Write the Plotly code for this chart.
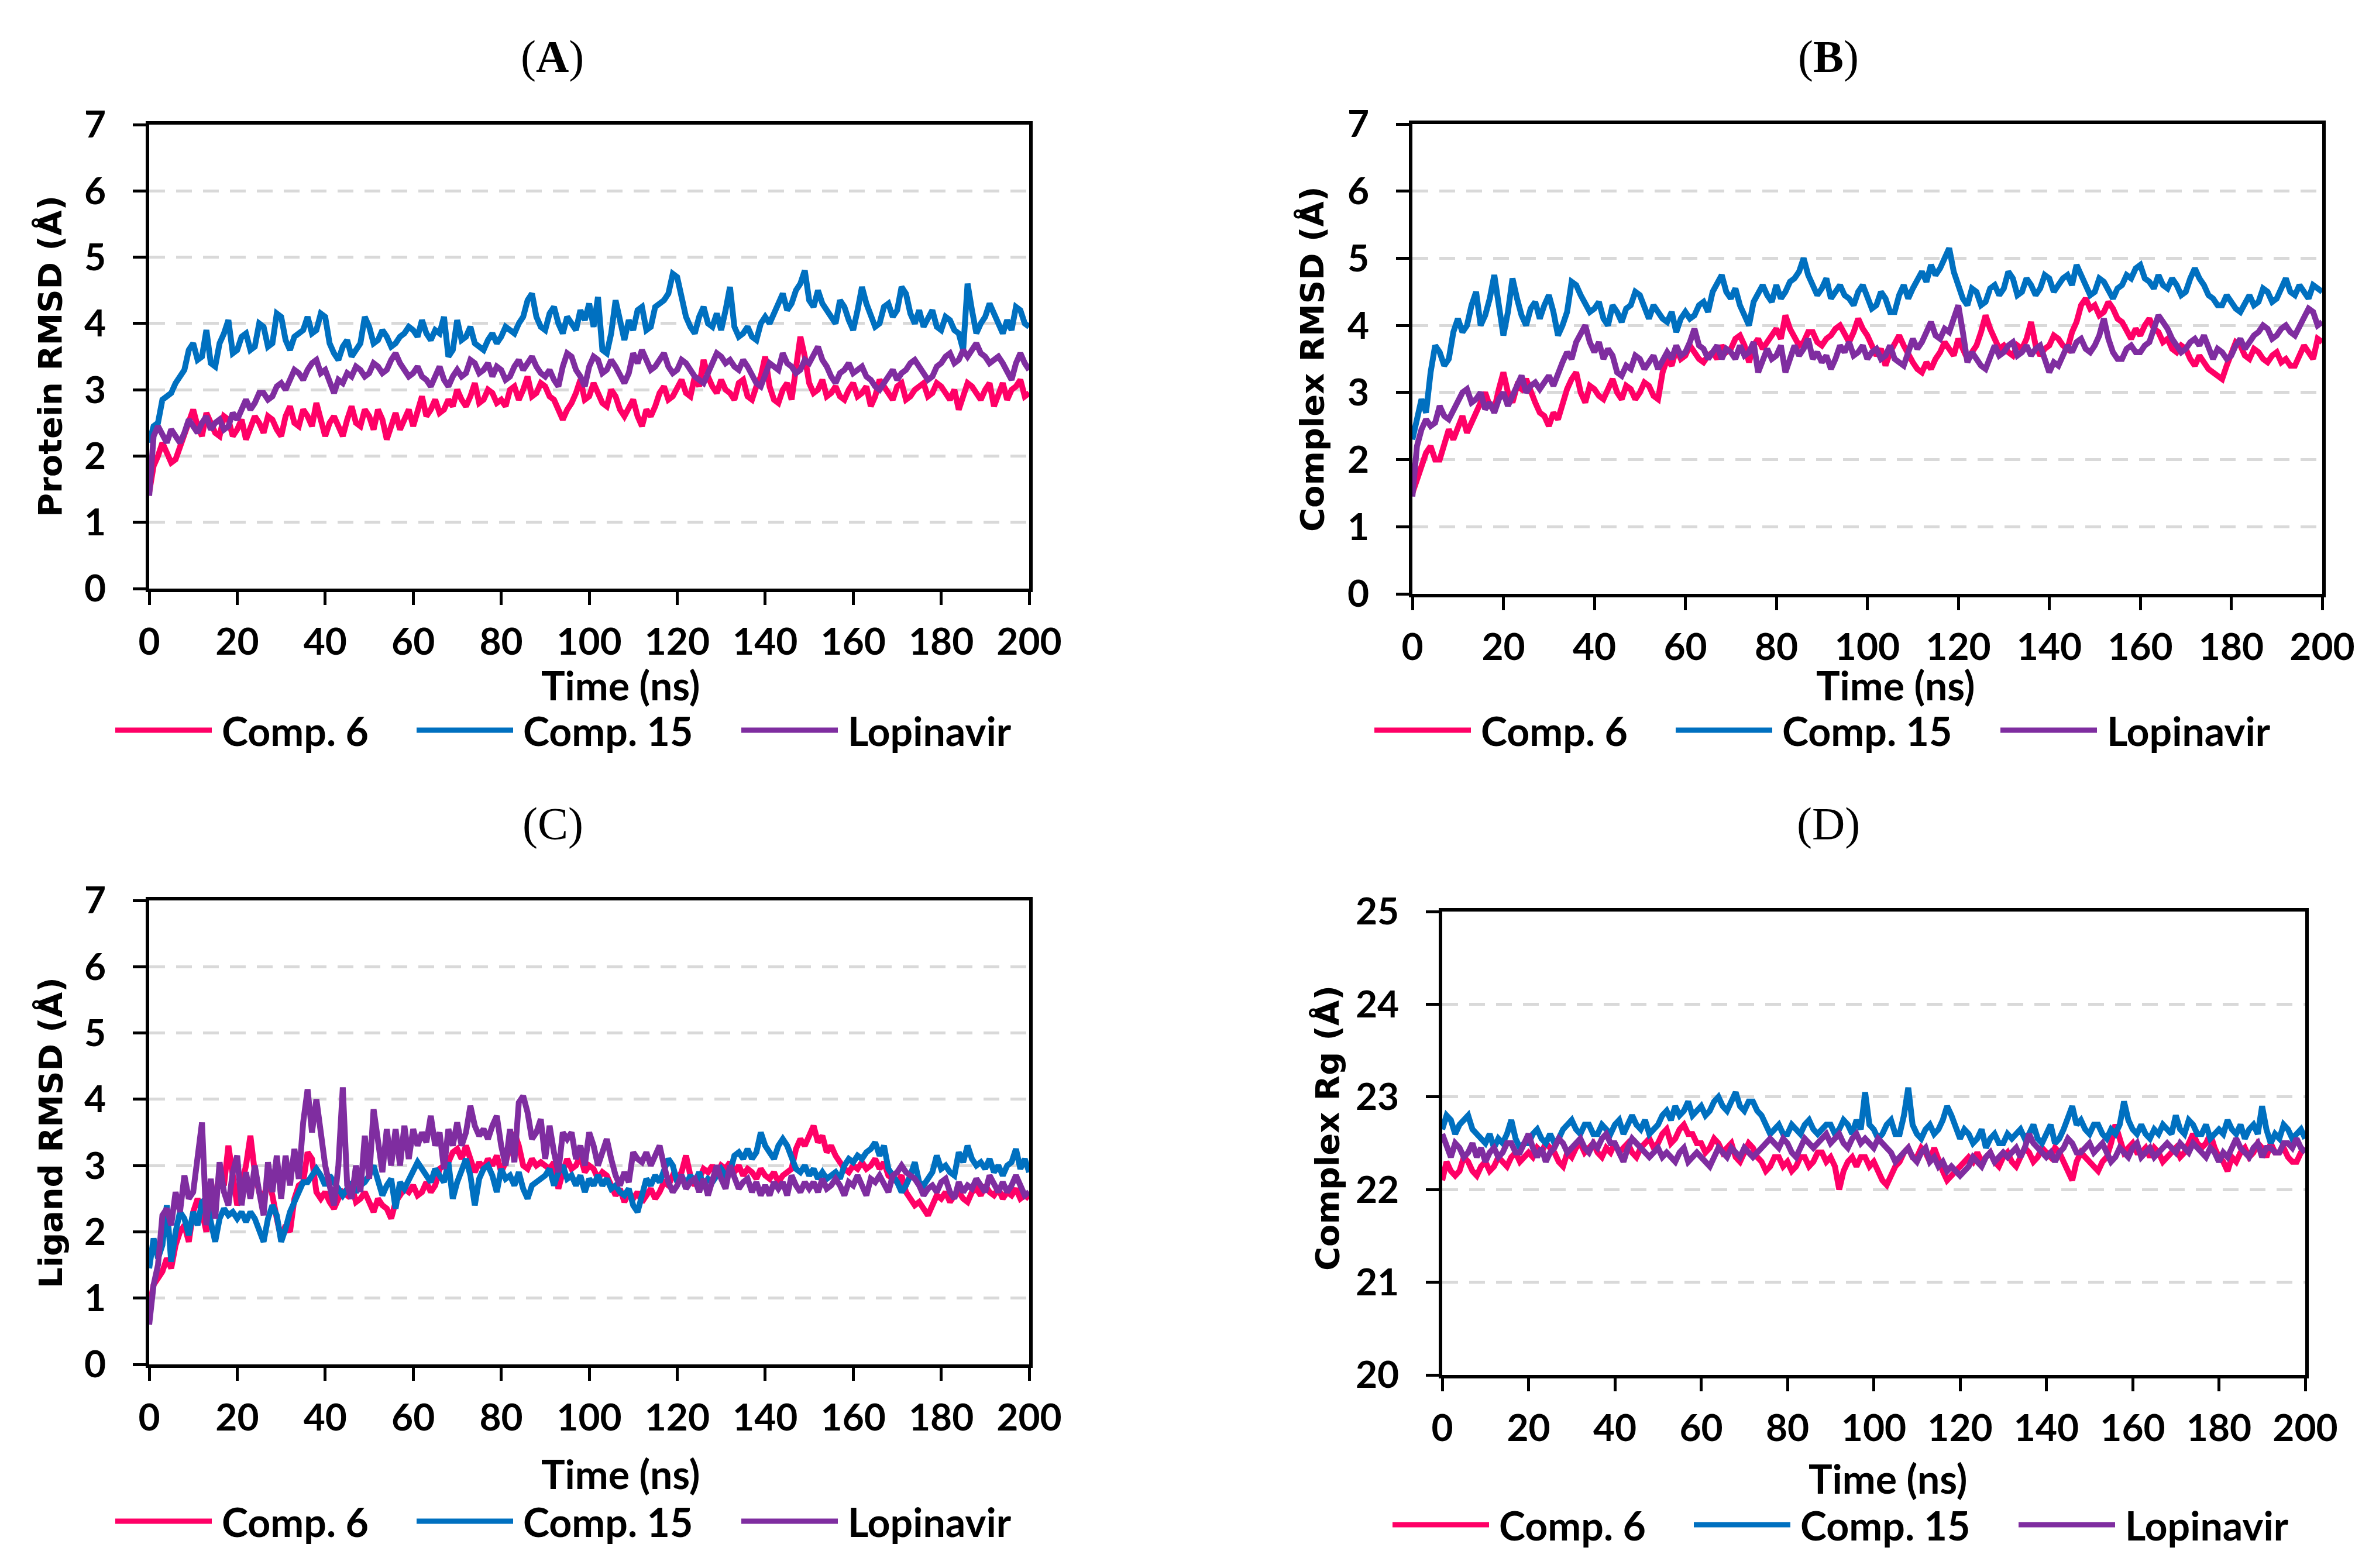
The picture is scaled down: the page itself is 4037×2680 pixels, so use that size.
import plotly.graph_objects as go

# ---------------- data ----------------
time_ns = list(range(0, 201))

series_names = ["Comp. 6", "Comp. 15", "Lopinavir"]

# (A) protein RMSD
protein_comp6 = [
    1.45, 1.85, 2.0, 2.2, 2.05, 1.9, 1.95, 2.15, 2.3, 2.55,
    2.7, 2.45, 2.3, 2.65, 2.5, 2.35, 2.3, 2.6, 2.55, 2.3,
    2.4, 2.55, 2.25, 2.4, 2.6, 2.5, 2.35, 2.6, 2.55, 2.4,
    2.3, 2.6, 2.75, 2.5, 2.45, 2.7, 2.6, 2.45, 2.8, 2.55,
    2.3, 2.5, 2.6, 2.45, 2.3, 2.55, 2.75, 2.5, 2.45, 2.7,
    2.6, 2.4, 2.7, 2.55, 2.25, 2.45, 2.65, 2.4, 2.55, 2.7,
    2.45, 2.65, 2.9, 2.6, 2.7, 2.85, 2.65, 2.7, 2.85, 2.75,
    3.0, 2.85, 2.75, 2.9, 3.1, 2.8, 2.85, 3.0, 2.95, 2.8,
    2.85, 2.75, 3.0, 3.05, 2.85, 3.0, 3.2, 2.9, 2.95, 3.1,
    3.05, 2.9, 2.85, 2.7, 2.55, 2.7, 2.8, 2.95, 3.15, 2.85,
    2.9, 3.1, 2.95, 2.8, 2.75, 3.0, 2.9, 2.7, 2.6, 2.75,
    2.85, 2.6, 2.45, 2.7, 2.6, 2.75, 2.95, 3.05, 2.85, 2.9,
    3.05, 3.15, 2.95, 2.9, 3.2, 3.05, 3.45, 3.2, 3.05, 2.95,
    3.15, 3.0, 2.95, 2.85, 3.1, 3.15, 2.9, 2.85, 3.05, 3.2,
    3.5, 3.05, 2.85, 2.8, 3.0, 3.1, 2.85, 3.3, 3.8, 3.5,
    3.1, 2.95, 3.0, 3.15, 2.9, 2.95, 3.05, 2.9, 2.85, 3.0,
    3.1, 2.9, 2.95, 3.05, 2.75, 2.9, 3.15, 3.05, 2.95, 2.85,
    3.05, 3.1, 2.85, 2.9, 3.0, 3.05, 3.1, 2.9, 2.95, 3.1,
    3.05, 2.95, 2.85, 3.0, 2.7, 2.9, 3.1, 3.05, 2.95, 2.85,
    3.0, 3.1, 2.75, 2.95, 3.1, 2.85, 3.0, 3.05, 3.15, 2.9,
    2.95]
protein_comp15 = [
    2.2, 2.45, 2.5, 2.85, 2.9, 2.95, 3.1, 3.2, 3.3, 3.6,
    3.7, 3.45, 3.5, 3.9, 3.4, 3.35, 3.7, 3.85, 4.05, 3.55,
    3.6, 3.8, 3.85, 3.6, 3.65, 4.0, 3.95, 3.65, 3.7, 4.15,
    4.1, 3.75, 3.6, 3.8, 3.85, 3.9, 4.1, 3.85, 3.9, 4.15,
    4.1, 3.7, 3.55, 3.45, 3.65, 3.75, 3.5, 3.6, 3.7, 4.1,
    3.95, 3.7, 3.75, 3.9, 3.8, 3.65, 3.7, 3.8, 3.85, 3.95,
    3.9, 3.8, 4.05, 3.85, 3.75, 3.9, 3.85, 4.1, 3.5, 3.6,
    4.05, 3.75, 3.8, 3.95, 3.7, 3.65, 3.6, 3.75, 3.85, 3.7,
    3.8, 3.95, 3.9, 3.85, 4.0, 4.1, 4.35, 4.45, 4.1, 3.95,
    3.9, 4.15, 4.25, 4.0, 3.85, 4.1, 4.0, 3.9, 4.2, 4.05,
    4.3, 3.95, 4.4, 3.6, 3.55, 3.85, 4.35, 4.0, 3.75, 4.05,
    3.9, 4.2, 4.25, 3.9, 3.95, 4.25, 4.3, 4.35, 4.45, 4.75,
    4.7, 4.4, 4.1, 3.95, 3.85, 4.1, 4.25, 4.0, 3.95, 4.15,
    3.9, 4.2, 4.55, 3.95, 3.8, 3.85, 3.95, 3.8, 3.75, 4.0,
    4.1, 4.0, 4.15, 4.3, 4.45, 4.2, 4.3, 4.5, 4.6, 4.8,
    4.35, 4.25, 4.5, 4.3, 4.2, 4.1, 4.0, 4.35, 4.25, 4.05,
    3.9, 4.2, 4.55, 4.3, 4.1, 3.95, 4.0, 4.25, 4.3, 4.1,
    4.2, 4.55, 4.45, 4.15, 4.0, 4.2, 3.95, 4.1, 4.2, 3.95,
    3.9, 4.1, 4.05, 3.9, 3.85, 3.6, 4.6, 4.2, 3.85, 4.0,
    4.1, 4.3, 4.15, 3.95, 3.85, 4.05, 3.9, 4.25, 4.2, 4.0,
    3.95]
protein_lopinavir = [
    1.4, 2.3, 2.45, 2.3, 2.2, 2.4, 2.3, 2.2, 2.35, 2.55,
    2.45, 2.35, 2.5, 2.6, 2.4, 2.5, 2.55, 2.4, 2.45, 2.65,
    2.55, 2.7, 2.85, 2.7, 2.8, 2.95, 2.95, 2.85, 2.9, 3.05,
    3.1, 3.0, 3.15, 3.3, 3.25, 3.15, 3.3, 3.4, 3.45, 3.25,
    3.3, 3.1, 2.95, 3.15, 3.1, 3.25, 3.2, 3.35, 3.3, 3.2,
    3.25, 3.4, 3.35, 3.25, 3.3, 3.45, 3.55, 3.4, 3.3, 3.2,
    3.25, 3.35, 3.2, 3.15, 3.05, 3.2, 3.35, 3.15, 3.05, 3.2,
    3.3, 3.2, 3.25, 3.45, 3.4, 3.25, 3.3, 3.4, 3.2, 3.35,
    3.3, 3.15, 3.2, 3.35, 3.45, 3.3, 3.4, 3.5, 3.35, 3.25,
    3.2, 3.3, 3.15, 3.05, 3.35, 3.55, 3.5, 3.3, 3.2, 3.05,
    3.35, 3.5, 3.45, 3.25, 3.3, 3.45, 3.35, 3.2, 3.1, 3.25,
    3.55, 3.4, 3.6, 3.45, 3.3, 3.35, 3.45, 3.55, 3.35, 3.25,
    3.3, 3.45, 3.4, 3.3, 3.2, 3.15, 3.1, 3.25, 3.4, 3.55,
    3.5, 3.4, 3.45, 3.35, 3.3, 3.45, 3.35, 3.2, 3.1, 3.05,
    3.25, 3.4, 3.35, 3.3, 3.55, 3.4, 3.35, 3.25, 3.3, 3.45,
    3.4, 3.55, 3.65, 3.45, 3.35, 3.2, 3.1, 3.25, 3.3, 3.4,
    3.25, 3.3, 3.35, 3.2, 3.15, 3.05, 3.0, 3.1, 3.2, 3.3,
    3.15, 3.25, 3.3, 3.4, 3.45, 3.35, 3.25, 3.15, 3.2, 3.35,
    3.4, 3.5, 3.55, 3.4, 3.45, 3.6, 3.5, 3.6, 3.7, 3.55,
    3.5, 3.4, 3.45, 3.5, 3.4, 3.25, 3.15, 3.4, 3.55, 3.4,
    3.3]

# (B) complex RMSD
complex_comp6 = [
    1.5, 1.7, 1.85, 2.1, 2.2, 2.0, 2.0, 2.25, 2.45, 2.3,
    2.5, 2.65, 2.4, 2.55, 2.7, 2.85, 3.0, 2.8, 2.75, 3.05,
    3.3, 3.0, 2.85, 3.1, 3.05, 3.2, 3.0, 2.85, 2.7, 2.65,
    2.5, 2.7, 2.6, 2.85, 3.05, 3.2, 3.3, 3.0, 2.85, 3.1,
    3.05, 2.95, 2.9, 3.05, 3.2, 3.0, 2.9, 3.1, 3.05, 2.9,
    3.0, 3.15, 3.1, 2.95, 2.9, 3.3, 3.5, 3.4, 3.65, 3.5,
    3.55, 3.7, 3.6, 3.5, 3.45, 3.55, 3.6, 3.5, 3.7, 3.6,
    3.65, 3.8, 3.85, 3.7, 3.45, 3.7, 3.8, 3.65, 3.75, 3.85,
    3.95, 3.8, 4.15, 3.95, 3.8, 3.7, 3.75, 3.9, 3.9, 3.75,
    3.7, 3.8, 3.85, 3.95, 4.0, 3.85, 3.75, 3.9, 4.1, 3.95,
    3.85, 3.7, 3.55, 3.65, 3.4, 3.6, 3.75, 3.85, 3.7, 3.55,
    3.45, 3.35, 3.3, 3.45, 3.35, 3.5, 3.6, 3.75, 3.65, 3.55,
    3.8, 3.65, 3.5, 3.6, 3.7, 3.9, 4.15, 3.95, 3.8, 3.65,
    3.7, 3.6, 3.55, 3.7, 3.65, 3.8, 4.05, 3.7, 3.55, 3.65,
    3.7, 3.85, 3.8, 3.7, 3.65, 3.9, 4.05, 4.3, 4.4, 4.25,
    4.3, 4.15, 4.2, 4.35, 4.25, 4.1, 4.05, 3.9, 3.8, 3.95,
    3.85, 4.0, 4.1, 3.95, 3.9, 3.75, 3.8, 3.65, 3.6, 3.7,
    3.65, 3.5, 3.4, 3.55, 3.45, 3.35, 3.3, 3.25, 3.2, 3.4,
    3.6, 3.75, 3.7, 3.55, 3.5, 3.65, 3.6, 3.5, 3.45, 3.55,
    3.6, 3.45, 3.5, 3.4, 3.4, 3.55, 3.7, 3.6, 3.5, 3.8,
    3.75]
complex_comp15 = [
    2.3, 2.6, 2.9, 2.7, 3.3, 3.7, 3.6, 3.4, 3.5, 3.9,
    4.1, 3.9, 4.0, 4.3, 4.5, 4.0, 4.15, 4.4, 4.75, 4.3,
    3.85, 4.2, 4.7, 4.4, 4.15, 4.0, 4.25, 4.35, 4.1, 4.3,
    4.45, 4.2, 3.85, 4.0, 4.2, 4.65, 4.6, 4.45, 4.3, 4.2,
    4.25, 4.35, 4.1, 4.0, 4.3, 4.2, 4.05, 4.25, 4.3, 4.5,
    4.45, 4.25, 4.1, 4.3, 4.2, 4.1, 4.05, 4.2, 3.9, 4.1,
    4.2, 4.1, 4.15, 4.3, 4.35, 4.2, 4.5, 4.65, 4.75, 4.5,
    4.4, 4.55, 4.3, 4.15, 4.0, 4.35, 4.5, 4.6, 4.45, 4.35,
    4.6, 4.4, 4.5, 4.65, 4.7, 4.8, 5.0, 4.75, 4.6, 4.45,
    4.55, 4.7, 4.4, 4.5, 4.6, 4.45, 4.4, 4.3, 4.5, 4.6,
    4.45, 4.25, 4.3, 4.5, 4.4, 4.2, 4.2, 4.45, 4.6, 4.4,
    4.55, 4.7, 4.8, 4.65, 4.9, 4.75, 4.85, 5.0, 5.15, 4.8,
    4.6, 4.4, 4.3, 4.55, 4.5, 4.3, 4.35, 4.55, 4.6, 4.45,
    4.55, 4.8, 4.7, 4.45, 4.5, 4.7, 4.6, 4.45, 4.55, 4.75,
    4.7, 4.5, 4.6, 4.7, 4.75, 4.6, 4.9, 4.75, 4.6, 4.45,
    4.5, 4.7, 4.65, 4.5, 4.4, 4.55, 4.6, 4.75, 4.7, 4.85,
    4.9, 4.7, 4.65, 4.55, 4.75, 4.6, 4.55, 4.7, 4.6, 4.45,
    4.5, 4.7, 4.85, 4.7, 4.6, 4.45, 4.4, 4.3, 4.3, 4.45,
    4.35, 4.25, 4.2, 4.35, 4.45, 4.3, 4.35, 4.55, 4.5, 4.35,
    4.4, 4.55, 4.7, 4.5, 4.45, 4.6, 4.5, 4.4, 4.6, 4.55,
    4.5]
complex_lopinavir = [
    1.45, 2.2, 2.45, 2.6, 2.5, 2.55, 2.8, 2.65, 2.6, 2.75,
    2.9, 3.0, 3.05, 2.85, 2.9, 3.0, 2.75, 2.85, 2.7, 2.9,
    3.0, 2.8, 2.95, 3.1, 3.25, 3.0, 3.1, 3.15, 3.05, 3.15,
    3.25, 3.1, 3.3, 3.45, 3.6, 3.5, 3.75, 3.9, 4.0, 3.75,
    3.6, 3.75, 3.5, 3.65, 3.55, 3.3, 3.25, 3.4, 3.35, 3.55,
    3.5, 3.35, 3.45, 3.55, 3.35, 3.5, 3.6, 3.5, 3.7, 3.55,
    3.6, 3.75, 3.95, 3.7, 3.65, 3.5, 3.6, 3.7, 3.5, 3.65,
    3.6, 3.5, 3.7, 3.55, 3.6, 3.75, 3.3, 3.5, 3.65, 3.5,
    3.55, 3.7, 3.3, 3.5, 3.7, 3.55, 3.65, 3.8, 3.5, 3.6,
    3.45, 3.55, 3.35, 3.5, 3.7, 3.6, 3.75, 3.55, 3.6, 3.7,
    3.5, 3.6, 3.65, 3.5, 3.55, 3.7, 3.5, 3.45, 3.4, 3.6,
    3.8, 3.65, 3.75, 3.9, 4.05, 3.85, 3.8, 3.95, 3.9, 4.1,
    4.3, 3.9, 3.45, 3.6, 3.5, 3.4, 3.35, 3.55, 3.7, 3.55,
    3.6, 3.7, 3.75, 3.55, 3.6, 3.7, 3.55, 3.65, 3.7, 3.5,
    3.3, 3.45, 3.4, 3.55, 3.7, 3.6, 3.75, 3.8, 3.65, 3.6,
    3.7, 3.85, 4.1, 3.8, 3.6, 3.5, 3.5, 3.65, 3.7, 3.6,
    3.6, 3.7, 3.75, 3.95, 4.15, 4.05, 3.95, 3.8, 3.7, 3.6,
    3.65, 3.75, 3.8, 3.7, 3.85, 3.7, 3.5, 3.65, 3.6, 3.5,
    3.55, 3.7, 3.8, 3.65, 3.75, 3.85, 3.9, 4.0, 3.95, 3.8,
    3.85, 3.95, 4.0, 3.9, 3.85, 4.0, 4.1, 4.25, 4.2, 4.0,
    4.05]

# (C) ligand RMSD
ligand_comp6 = [
    0.85, 1.2, 1.3, 1.4, 1.6, 1.45, 1.8, 2.0, 2.1, 1.85,
    2.3, 2.5, 2.3, 2.0, 2.6, 2.5, 2.9, 2.7, 3.3, 2.8,
    2.4, 2.7, 3.0, 3.45, 2.9, 2.6, 2.5, 2.8, 2.55, 2.2,
    1.9, 2.1, 2.0, 2.5, 2.7, 2.75, 3.2, 3.1, 2.6, 2.5,
    2.6, 2.45, 2.35, 2.5, 2.6, 2.55, 2.7, 2.45, 2.5, 2.6,
    2.45, 2.3, 2.5, 2.4, 2.35, 2.2, 2.45, 2.55, 2.65, 2.6,
    2.7, 2.55, 2.6, 2.75, 2.6, 2.7, 2.95, 3.0, 3.05, 3.2,
    3.25, 3.1, 3.3, 3.1, 2.9, 3.05, 2.95, 3.1, 3.0, 3.15,
    2.9, 3.05, 3.3, 3.5, 3.3, 3.0, 2.95, 3.1, 3.0, 3.05,
    3.0, 2.95, 3.05, 2.65, 2.9, 3.1, 2.95, 3.0, 3.15, 2.9,
    3.0, 2.95, 2.8, 2.9, 2.85, 2.7, 2.55, 2.65, 2.45, 2.6,
    2.5, 2.6, 2.45, 2.55, 2.65, 2.5, 2.6, 2.75, 2.7, 2.85,
    2.8, 2.9, 3.15, 2.85, 2.7, 2.8, 2.95, 2.9, 3.0, 2.85,
    3.0, 2.95, 3.05, 2.9, 3.0, 2.85, 2.95, 2.9, 2.8, 2.95,
    2.85, 2.8, 2.9, 2.75, 2.85, 2.9, 2.95, 3.25, 3.4, 3.3,
    3.45, 3.6, 3.35, 3.45, 3.2, 3.3, 3.15, 3.05, 2.95, 2.9,
    3.0, 2.95, 3.05, 2.95, 3.0, 3.1, 2.95, 3.05, 2.85, 2.8,
    2.75, 2.85, 2.6, 2.5, 2.4, 2.45, 2.35, 2.25, 2.4, 2.55,
    2.5, 2.6, 2.45, 2.55, 2.6, 2.5, 2.45, 2.6, 2.65, 2.55,
    2.7, 2.6, 2.55, 2.65, 2.5, 2.6, 2.55, 2.65, 2.5, 2.55,
    2.5]
ligand_comp15 = [
    1.45, 1.9, 1.6, 1.8, 2.4, 1.55, 2.0, 2.3, 2.2, 1.95,
    2.3, 2.1, 2.45, 2.5, 2.15, 1.85, 2.2, 2.35, 2.25, 2.3,
    2.2, 2.3, 2.15, 2.3, 2.2, 2.0, 1.85, 2.2, 2.4, 2.25,
    1.85, 2.05, 2.3, 2.45, 2.6, 2.75, 2.75, 2.85, 2.95, 2.85,
    2.7, 2.85, 2.75, 2.65, 2.55, 2.65, 2.75, 2.6, 2.7, 2.75,
    2.85, 3.0, 2.8, 2.55, 2.7, 2.8, 2.35, 2.75, 2.65, 2.8,
    2.9, 3.05, 2.95, 2.85, 2.75, 2.95, 2.85, 2.75, 3.05, 2.5,
    2.75, 2.9, 3.1, 2.85, 2.4, 2.8, 2.95, 3.0, 2.85, 2.6,
    2.95, 2.8, 2.85, 2.7, 2.9, 2.65, 2.5, 2.7, 2.75, 2.8,
    2.85, 2.95, 2.7, 2.9, 3.0, 2.8, 2.85, 2.7, 2.85, 2.6,
    2.8, 2.7, 2.85, 2.7, 2.8, 2.65, 2.7, 2.6, 2.55, 2.65,
    2.4, 2.3, 2.55, 2.8, 2.7, 2.85, 2.75, 2.95, 3.1, 3.0,
    2.75, 2.85, 2.7, 2.85, 2.75, 2.9, 2.7, 2.8, 2.75, 2.85,
    2.95, 2.85, 2.9, 3.15, 3.2, 3.1, 3.25, 3.1, 3.2, 3.5,
    3.3, 3.2, 3.1, 3.3, 3.4, 3.3, 3.1, 2.95, 2.9, 3.0,
    2.85, 2.95, 2.8, 2.9, 2.8, 2.85, 2.9, 2.8, 3.0, 3.1,
    3.05, 3.15, 3.1, 3.2, 3.25, 3.35, 3.15, 3.3, 2.95, 2.85,
    2.75, 2.6, 2.7, 2.85, 3.05, 2.75, 2.7, 2.8, 2.9, 3.15,
    2.95, 3.0, 2.9, 2.85, 3.2, 3.05, 3.3, 3.1, 3.0, 3.05,
    2.95, 3.1, 2.9, 3.0, 2.85, 3.0, 3.05, 3.25, 2.95, 3.1,
    2.9]
ligand_lopinavir = [
    0.6, 1.2, 1.5, 2.25, 2.35, 2.1, 2.6, 2.3, 2.85, 2.5,
    2.6, 3.15, 3.65, 2.1, 2.8, 2.2, 3.05, 2.6, 2.4, 2.9,
    3.15, 2.4, 2.9, 2.5, 3.0, 2.6, 2.25, 3.05, 2.6, 3.15,
    2.5, 3.15, 2.7, 3.25, 2.8, 3.65, 4.15, 3.5, 4.0, 3.5,
    3.0, 2.7, 2.4, 3.0, 4.18, 2.7, 2.5, 3.0, 2.6, 3.45,
    2.8, 3.85, 3.4, 2.9, 3.55, 3.0, 3.55, 3.0, 3.6, 3.1,
    3.55, 3.3, 3.5, 3.35, 3.75, 3.3, 3.5, 2.95, 3.55, 3.3,
    3.65, 3.3, 3.5, 3.9, 3.6, 3.45, 3.55, 3.4, 3.6, 3.75,
    3.3, 3.0, 3.55, 3.05, 3.95, 4.05, 3.8, 3.4, 3.5, 3.7,
    3.1, 3.6, 3.2, 2.9, 3.5, 3.4, 3.5, 3.1, 3.3, 3.0,
    3.5, 3.3, 3.0, 3.2, 3.4, 3.1, 2.85, 2.7, 2.9, 2.75,
    3.2, 3.1, 3.05, 3.2, 3.0, 3.15, 3.3, 3.0, 2.75, 2.6,
    2.7, 2.85, 2.65, 2.75, 2.8, 2.6, 2.8, 2.55, 2.8, 3.0,
    2.8, 2.65, 3.0, 2.85, 2.65, 2.75, 2.8, 2.6, 2.75, 2.55,
    2.7, 2.55, 2.75, 2.65, 2.75, 2.55, 2.85, 2.7, 2.6, 2.75,
    2.65, 2.75, 2.6, 2.8, 2.65, 2.7, 2.8, 2.7, 2.55, 2.75,
    2.7, 2.85, 2.7, 2.55, 2.8, 2.75, 2.85, 2.7, 2.6, 2.85,
    2.9, 3.0, 2.9, 2.85, 2.8, 2.7, 2.55, 2.65, 2.7, 2.6,
    2.75, 2.8, 2.6, 2.5, 2.75, 2.6, 2.7, 2.65, 2.8, 2.7,
    2.6, 2.85, 2.7, 2.6, 2.75, 2.6, 2.7, 2.85, 2.7, 2.55,
    2.6]

# (D) complex radius of gyration
rg_comp6 = [
    22.1, 22.3, 22.2, 22.15, 22.2, 22.35, 22.3, 22.2, 22.15, 22.25,
    22.3, 22.2, 22.25, 22.35, 22.3, 22.25, 22.35, 22.4, 22.3, 22.35,
    22.4, 22.35, 22.45, 22.4, 22.5, 22.45, 22.4, 22.3, 22.25, 22.4,
    22.35, 22.45, 22.5, 22.4, 22.45, 22.5, 22.4, 22.35, 22.45, 22.4,
    22.5, 22.4, 22.45, 22.5, 22.4, 22.35, 22.45, 22.5, 22.55, 22.45,
    22.5, 22.6, 22.65, 22.5, 22.55, 22.65, 22.7, 22.6, 22.6, 22.5,
    22.5, 22.4, 22.45, 22.55, 22.5, 22.4, 22.45, 22.5, 22.35, 22.3,
    22.4, 22.5, 22.45, 22.35, 22.3, 22.2, 22.25, 22.35, 22.35, 22.25,
    22.3, 22.2, 22.25, 22.35, 22.35, 22.25, 22.3, 22.4, 22.4, 22.3,
    22.35, 22.25, 22.0, 22.2, 22.3, 22.35, 22.25, 22.35, 22.35, 22.25,
    22.3, 22.2, 22.1, 22.05, 22.15, 22.25, 22.3, 22.4, 22.45, 22.35,
    22.35, 22.45, 22.4, 22.3, 22.45, 22.3, 22.2, 22.1, 22.15, 22.2,
    22.25, 22.3, 22.35, 22.3, 22.4, 22.3, 22.35, 22.4, 22.3, 22.25,
    22.35, 22.4, 22.3, 22.25, 22.35, 22.45, 22.4, 22.3, 22.35, 22.45,
    22.4, 22.35, 22.45, 22.4, 22.3, 22.2, 22.1, 22.3, 22.4, 22.35,
    22.3, 22.25, 22.2, 22.3, 22.35, 22.5, 22.7, 22.55, 22.4, 22.45,
    22.5, 22.4, 22.4, 22.45, 22.35, 22.45, 22.4, 22.3, 22.35, 22.4,
    22.45, 22.35, 22.4, 22.5, 22.6, 22.5, 22.45, 22.5, 22.6, 22.45,
    22.35, 22.3, 22.2, 22.35, 22.3, 22.4, 22.45, 22.35, 22.4, 22.5,
    22.45, 22.35, 22.5, 22.4, 22.4, 22.45, 22.35, 22.3, 22.3, 22.4,
    22.45]
rg_comp15 = [
    22.65, 22.8, 22.75, 22.6, 22.7, 22.75, 22.8, 22.65, 22.6, 22.55,
    22.5, 22.6, 22.45, 22.55, 22.5, 22.6, 22.75, 22.55, 22.45, 22.5,
    22.5, 22.6, 22.65, 22.55, 22.5, 22.6, 22.5, 22.55, 22.65, 22.7,
    22.75, 22.65, 22.6, 22.7, 22.7, 22.6, 22.6, 22.7, 22.65, 22.6,
    22.7, 22.75, 22.6, 22.7, 22.8, 22.7, 22.65, 22.75, 22.6, 22.65,
    22.7, 22.8, 22.85, 22.75, 22.9, 22.8, 22.85, 22.95, 22.8, 22.85,
    22.9, 22.8, 22.85, 22.95, 23.0, 22.9, 22.85, 22.95, 23.05, 22.9,
    22.85, 22.95, 22.95, 22.85, 22.8, 22.7, 22.6, 22.65, 22.7, 22.6,
    22.6, 22.7, 22.65, 22.6, 22.7, 22.75, 22.65, 22.6, 22.65, 22.7,
    22.7, 22.6, 22.65, 22.75, 22.7, 22.6, 22.75, 22.65, 23.05, 22.7,
    22.65, 22.55, 22.6, 22.7, 22.75, 22.6, 22.6, 22.8, 23.1, 22.7,
    22.6, 22.55, 22.65, 22.7, 22.6, 22.65, 22.75, 22.9, 22.8, 22.65,
    22.55, 22.65, 22.6, 22.5, 22.55, 22.65, 22.45, 22.55, 22.6, 22.5,
    22.5, 22.6, 22.55, 22.6, 22.65, 22.55, 22.6, 22.7, 22.55, 22.5,
    22.6, 22.7, 22.5, 22.55, 22.65, 22.8, 22.9, 22.7, 22.75, 22.65,
    22.6, 22.7, 22.7, 22.6, 22.55, 22.65, 22.6, 22.7, 22.95, 22.75,
    22.65, 22.6, 22.7, 22.6, 22.55, 22.65, 22.6, 22.7, 22.65, 22.6,
    22.8, 22.65, 22.6, 22.75, 22.7, 22.6, 22.6, 22.7, 22.55, 22.6,
    22.65, 22.6, 22.75, 22.65, 22.6, 22.7, 22.55, 22.65, 22.7, 22.6,
    22.9, 22.65, 22.5, 22.6, 22.55, 22.7, 22.65, 22.55, 22.6, 22.65,
    22.55]
rg_lopinavir = [
    22.6, 22.45, 22.35, 22.5, 22.45, 22.35, 22.4, 22.5, 22.35, 22.45,
    22.3, 22.4, 22.45, 22.35, 22.4, 22.5, 22.5, 22.4, 22.4, 22.5,
    22.6, 22.45, 22.35, 22.45, 22.3, 22.4, 22.45, 22.55, 22.5, 22.4,
    22.45, 22.5, 22.55, 22.45, 22.4, 22.5, 22.45, 22.55, 22.6, 22.5,
    22.5, 22.4, 22.3, 22.45, 22.55, 22.5, 22.45, 22.4, 22.35, 22.4,
    22.45, 22.35, 22.4, 22.35, 22.3, 22.4, 22.45, 22.3, 22.35, 22.4,
    22.35, 22.3, 22.25, 22.35, 22.45, 22.4, 22.35, 22.45, 22.4, 22.35,
    22.45, 22.4, 22.35, 22.4, 22.45, 22.5, 22.55, 22.5, 22.45, 22.55,
    22.5, 22.4, 22.35, 22.45, 22.55, 22.5, 22.45, 22.5, 22.55, 22.6,
    22.5, 22.55, 22.6, 22.5, 22.45, 22.55, 22.6, 22.5, 22.55, 22.5,
    22.45, 22.55, 22.5, 22.45, 22.4, 22.3, 22.35, 22.4, 22.45, 22.35,
    22.3, 22.4, 22.45, 22.3, 22.35, 22.25, 22.3, 22.2, 22.25, 22.2,
    22.15, 22.2, 22.25, 22.35, 22.3, 22.25, 22.35, 22.4, 22.3, 22.35,
    22.4, 22.35, 22.4, 22.45, 22.35, 22.45, 22.6, 22.5, 22.45, 22.4,
    22.35, 22.4, 22.3, 22.4, 22.45, 22.55, 22.5, 22.4, 22.4, 22.45,
    22.5, 22.4, 22.45, 22.5, 22.4, 22.3, 22.35, 22.45, 22.4, 22.35,
    22.45, 22.5, 22.35, 22.4, 22.45, 22.35, 22.4, 22.45, 22.5, 22.45,
    22.4, 22.5, 22.45, 22.4, 22.5, 22.45, 22.4, 22.35, 22.45, 22.4,
    22.3, 22.4, 22.35, 22.45, 22.55, 22.45, 22.4, 22.35, 22.45, 22.5,
    22.35, 22.45, 22.45, 22.4, 22.4, 22.5, 22.5, 22.45, 22.55, 22.45,
    22.4]

# ---------------- styling / layout ----------------
W, H = 4037, 2680
COLORS = ["#FF0066", "#0070C0", "#7F2DA0"]


def px(x):
    return x / W


def py(y):
    return 1 - y / H


panels = [
    dict(ys=[protein_comp6, protein_comp15, protein_lopinavir],
         xdom=(247, 1751), ydom=(205, 998), yrange=(0, 7), label="(<b>A</b>)",
         ytitle="Protein RMSD (Å)", title_xy=(936, 88), ytitle_xy=(78, 601),
         xtitle_xy=(1052, 1162), legend_xy=(189, 1240)),
    dict(ys=[complex_comp6, complex_comp15, complex_lopinavir],
         xdom=(2406, 3961), ydom=(204, 1007), yrange=(0, 7), label="(<b>B</b>)",
         ytitle="Complex RMSD (Å)", title_xy=(3117, 88), ytitle_xy=(2235, 606),
         xtitle_xy=(3231, 1162), legend_xy=(2341, 1240)),
    dict(ys=[ligand_comp6, ligand_comp15, ligand_lopinavir],
         xdom=(247, 1751), ydom=(1531, 2324), yrange=(0, 7), label="(C)",
         ytitle="Ligand RMSD (Å)", title_xy=(937, 1400), ytitle_xy=(78, 1928),
         xtitle_xy=(1052, 2510), legend_xy=(189, 2592)),
    dict(ys=[rg_comp6, rg_comp15, rg_lopinavir],
         xdom=(2457, 3932), ydom=(1550, 2342), yrange=(20, 25), label="(D)",
         ytitle="Complex Rg (Å)", title_xy=(3117, 1400), ytitle_xy=(2260, 1920),
         xtitle_xy=(3218, 2518), legend_xy=(2372, 2598)),
]

tick_font = dict(family="Lato, 'Open Sans', sans-serif", size=64, color="black", weight="bold")
xtitle_font = dict(family="Lato, 'Open Sans', sans-serif", size=68, color="black", weight="bold")
legend_font = dict(family="Lato, 'Open Sans', sans-serif", size=68, color="black", weight="bold")
ytitle_font = dict(family="DejaVu Sans, Verdana, sans-serif", size=56, color="black", weight="bold")
label_font = dict(family="Liberation Serif, Times New Roman, serif", size=78, color="black")

fig = go.Figure()
annotations = []
shapes = []
layout_axes = {}

for i, p in enumerate(panels, start=1):
    xa = "x" if i == 1 else f"x{i}"
    ya = "y" if i == 1 else f"y{i}"
    for name, ys, color in zip(series_names, p["ys"], COLORS):
        fig.add_trace(go.Scatter(x=time_ns, y=ys, mode="lines", name=name,
                                 line=dict(color=color, width=10),
                                 xaxis=xa, yaxis=ya, showlegend=False))

    layout_axes["xaxis" if i == 1 else f"xaxis{i}"] = dict(
        domain=[px(p["xdom"][0]), px(p["xdom"][1])], anchor=ya, automargin=False,
        range=[0, 200], tickmode="array", tickvals=list(range(0, 201, 20)),
        ticks="outside", ticklen=22, tickwidth=5, tickcolor="black",
        showline=True, linecolor="black", linewidth=6, mirror=True,
        showgrid=False, zeroline=False, tickfont=tick_font, ticklabelstandoff=8)
    layout_axes["yaxis" if i == 1 else f"yaxis{i}"] = dict(
        domain=[py(p["ydom"][1]), py(p["ydom"][0])], anchor=xa, automargin=False,
        range=list(p["yrange"]), dtick=1,
        ticks="outside", ticklen=22, tickwidth=5, tickcolor="black",
        showline=True, linecolor="black", linewidth=6, mirror=True,
        showgrid=True, gridcolor="#D9D9D9", gridwidth=5, griddash="27px,19px",
        zeroline=False, tickfont=tick_font, ticklabelstandoff=33)

    # panel label, axis titles
    annotations.append(dict(text=p["label"], x=px(p["title_xy"][0]), y=py(p["title_xy"][1]),
                            xref="paper", yref="paper", showarrow=False,
                            xanchor="center", yanchor="middle", font=label_font))
    annotations.append(dict(text=p["ytitle"], x=px(p["ytitle_xy"][0]), y=py(p["ytitle_xy"][1]),
                            xref="paper", yref="paper", showarrow=False, textangle=-90,
                            xanchor="center", yanchor="middle", font=ytitle_font))
    annotations.append(dict(text="Time (ns)", x=px(p["xtitle_xy"][0]), y=py(p["xtitle_xy"][1]),
                            xref="paper", yref="paper", showarrow=False,
                            xanchor="center", yanchor="middle", font=xtitle_font))

    # legend row under each panel
    lx, ly = p["legend_xy"]
    for off, name, color in zip([0, 515, 1070], series_names, COLORS):
        shapes.append(dict(type="line", xref="paper", yref="paper",
                           x0=px(lx + off), x1=px(lx + off + 165), y0=py(ly), y1=py(ly),
                           line=dict(color=color, width=9)))
        annotations.append(dict(text=name, x=px(lx + off + 180), y=py(ly),
                                xref="paper", yref="paper", showarrow=False,
                                xanchor="left", yanchor="middle", font=legend_font))

fig.update_layout(width=W, height=H, margin=dict(l=0, r=0, t=0, b=0, autoexpand=False),
                  plot_bgcolor="white", paper_bgcolor="white", showlegend=False,
                  annotations=annotations, shapes=shapes, **layout_axes)

fig.write_html("out.html")
